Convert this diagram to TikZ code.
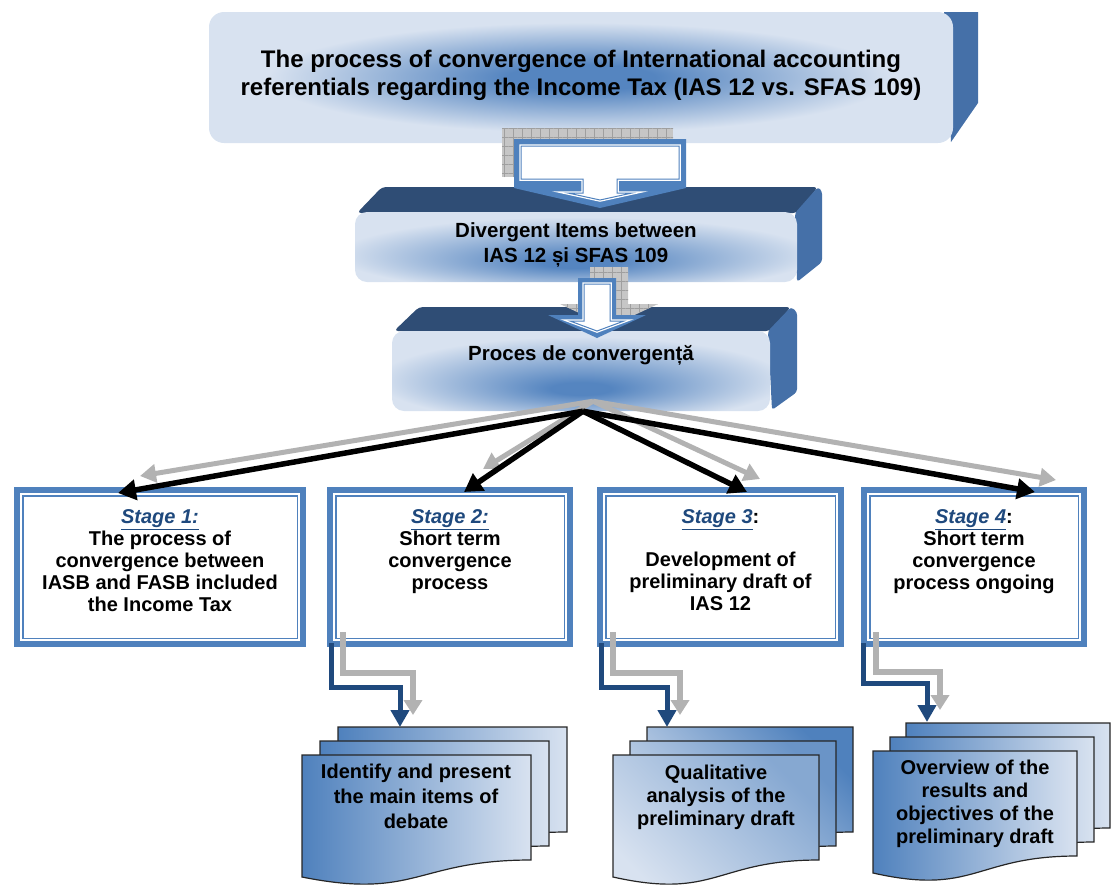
\documentclass[tikz,border=0pt]{standalone}
\usepackage{fontspec}
\setmainfont{Liberation Sans}
\usepackage{tikz}
\usetikzlibrary{
	positioning,
	arrows.meta,
	patterns.meta
}

\definecolor{accblue}{HTML}{4F81BD}
\definecolor{accdark}{HTML}{1F497D}
\definecolor{topface}{HTML}{2F4D75}
\definecolor{sideface}{HTML}{4570A8}
\definecolor{pale}{HTML}{D8E2F0}
\definecolor{glowblue}{HTML}{5585C0}

\pgfdeclareradialshading{glow}{\pgfpoint{0bp}{0bp}}{color(0bp)=(glowblue); color(5bp)=(glowblue); color(21bp)=(pale); color(50bp)=(pale)}
\pgfdeclareradialshading{lowglow}{\pgfpoint{0bp}{-12bp}}{color(0bp)=(glowblue); color(4bp)=(glowblue); color(27bp)=(pale); color(50bp)=(pale)}

% one sheet of a document stack: x, top y, width, shading
\newcommand{\docpage}[4]{%
	\path[docpage,#4] (#1,#2) -- ({#1+#3},#2) -- ({#1+#3},{#2+105})
		.. controls ({#1+#3/2},{#2+105}) and ({#1+#3/2},{#2+145}) .. (#1,{#2+122}) -- cycle;}

\begin{document}
\begin{tikzpicture}[x=1pt,y=-1pt,
		face/.style={shade,shading=#1,rounded corners=12,draw=none,inner sep=0},
		headtext/.style={font=\bfseries\fontsize{24}{28}\selectfont,align=center,inner sep=0},
		midtext/.style={font=\bfseries\fontsize{20.5}{24.5}\selectfont,align=center,inner sep=0},
		stagebox/.style={draw=accblue,line width=6,fill=white,inner sep=0,outer sep=3,minimum height=154},
		innerframe/.style={draw=accblue,line width=1.5},
		stagetext/.style={font=\bfseries\fontsize{20}{22}\selectfont,align=center,inner sep=0},
		doctext/.style={font=\bfseries\fontsize{20}{23}\selectfont,align=center,inner sep=0,anchor=north},
		docpage/.style={draw=black!85,line width=1.2},
		shadowgrid/.style={preaction={fill=gray!45},pattern={Hatch[distance=9pt,angle=0,line width=0.6pt]},pattern color=gray!75},
		fan/.style={draw=black,line width=5.5,-{Triangle[length=18,width=20]}},
		fanshadow/.style={draw=gray!60,line width=5,-{Triangle[length=16,width=18]}},
		elbow/.style={draw=accdark,line width=5,-{Triangle[length=17,width=18]}},
		elbowshadow/.style={draw=gray!60,line width=6,-{Triangle[length=15,width=18]}}
	]
	\useasboundingbox (0,0) rectangle (1117,884);

	% top box
	\fill[sideface] (944,12) -- (978,12) -- (978,103) -- (951,142) -- cycle;
	\node[face=glow,rounded corners=15,minimum width=744,minimum height=131] (top) at (581,77.5) {};
	\node[headtext] (toptext) at ([yshift=2pt]top.center)
		{The process of convergence of International accounting\\referentials regarding the Income Tax (IAS 12 vs. SFAS 109)};

	% divergent items
	\fill[topface,rounded corners=4] (357,213) -- (382,187) -- (818,187) -- (797,213) -- cycle;
	\fill[sideface,rounded corners=3] (795,213) -- (818,187) -- (822,191) -- (822,262) -- (797,282) -- cycle;
	\node[face=lowglow,minimum width=442,minimum height=70] (div) at (576,247) {};
	\node[midtext] (divtext) at ([yshift=2pt]div.center) {Divergent Items between\\IAS 12 și SFAS 109};

	% convergence process
	\fill[topface,rounded corners=4] (394,331) -- (419,307) -- (791,307) -- (770,331) -- cycle;
	\fill[sideface,rounded corners=3] (768,331) -- (791,307) -- (797,312) -- (797,392) -- (772,410) -- cycle;
	\node[face=lowglow,minimum width=378,minimum height=80] (proc) at (581,371) {};
	\node[midtext] (proctext) at ([yshift=16pt]proc.center) {Proces de convergență};

	% block arrows
	\path[shadowgrid] (502,128) rectangle (673,177);
	\fill[accblue] (514,139) -- (686,139) -- (686,188) -- (600,208) -- (514,188) -- cycle;
	\filldraw[fill=white,draw=white,line width=3.5] (521,146) -- (679,146) -- (679,179) -- (617,179) -- (617,193)
		-- (632,193) -- (600,200) -- (568,193) -- (583,193) -- (583,179) -- (521,179) -- cycle;
	\draw[accblue,line width=1] (521,146) -- (679,146) -- (679,179) -- (617,179) -- (617,193)
		-- (632,193) -- (600,200) -- (568,193) -- (583,193) -- (583,179) -- (521,179) -- cycle;

	\path[shadowgrid] (590,267) -- (628,267) -- (628,304) -- (658,304) -- (609,327) -- (560,304) -- (590,304) -- cycle;
	\fill[accblue] (578,278) -- (616,278) -- (616,315) -- (646,315) -- (597,338) -- (548,315) -- (578,315) -- cycle;
	\filldraw[fill=white,draw=white,line width=3.5] (584,284) -- (610,284) -- (610,321) -- (624,321) -- (597,331)
		-- (570,321) -- (584,321) -- cycle;
	\draw[accblue,line width=1] (584,284) -- (610,284) -- (610,321) -- (624,321) -- (597,331)
		-- (570,321) -- (584,321) -- cycle;

	% stages
	\node[stagebox,minimum width=286] (s1) at (160,567) {};
	\node[stagebox,minimum width=240] (s2) at (450,567) {};
	\node[stagebox,minimum width=241] (s3) at (720.5,567) {};
	\node[stagebox,minimum width=220] (s4) at (974,567) {};
	\draw[innerframe] ([shift={(8.75,8.75)}]s1.north west) rectangle ([shift={(-8.75,-8.75)}]s1.south east);
	\draw[innerframe] ([shift={(8.75,8.75)}]s2.north west) rectangle ([shift={(-8.75,-8.75)}]s2.south east);
	\draw[innerframe] ([shift={(8.75,8.75)}]s3.north west) rectangle ([shift={(-8.75,-8.75)}]s3.south east);
	\draw[innerframe] ([shift={(8.75,8.75)}]s4.north west) rectangle ([shift={(-8.75,-8.75)}]s4.south east);

	\node[stagetext,below=22pt of s1.north] (s1t)
		{{\color{accdark}\itshape\underline{Stage 1:}}\\The process of\\convergence between\\IASB and FASB included\\the Income Tax};
	\node[stagetext,below=22pt of s2.north] (s2t)
		{{\color{accdark}\itshape\underline{Stage 2:}}\\Short term\\convergence\\process};
	\node[stagetext,below=22pt of s3.north] (s3t)
		{{\color{accdark}\itshape\underline{Stage 3}}:\\[21pt]Development of\\preliminary draft of\\IAS 12};
	\node[stagetext,below=22pt of s4.north] (s4t)
		{{\color{accdark}\itshape\underline{Stage 4}}:\\Short term\\convergence\\process ongoing};

	% fan of arrows
	\draw[fanshadow] ([xshift=12pt,yshift=10pt]proc.south) -- ([xshift=-20pt,yshift=11pt]s1.north);
	\draw[fanshadow] ([xshift=12pt,yshift=10pt]proc.south) -- ([xshift=33pt,yshift=18pt]s2.north);
	\draw[fanshadow] ([xshift=12pt,yshift=10pt]proc.south) -- ([xshift=39.5pt,yshift=8pt]s3.north);
	\draw[fanshadow] ([xshift=12pt,yshift=10pt]proc.south) -- ([xshift=82pt,yshift=7pt]s4.north);
	\draw[fan] ([xshift=2pt]proc.south) -- ([xshift=-42pt,yshift=-6pt]s1.north);
	\draw[fan] ([xshift=2pt]proc.south) -- ([xshift=14pt,yshift=-5pt]s2.north);
	\draw[fan] ([xshift=2pt]proc.south) -- ([xshift=26.5pt,yshift=-5pt]s3.north);
	\draw[fan] ([xshift=2pt]proc.south) -- ([xshift=61pt,yshift=-5pt]s4.north);

	% document stacks
	\docpage{338}{727}{229}{left color=accblue,right color=pale}
	\docpage{320}{741}{229}{left color=accblue,right color=pale}
	\docpage{302}{755}{229}{left color=accblue,right color=pale}
	\docpage{647}{727}{206}{top color=accblue,bottom color=pale,shading angle=-45}
	\docpage{630}{741}{206}{top color=accblue!80!pale,bottom color=pale,shading angle=-45}
	\docpage{613}{755}{206}{top color=accblue!60!pale,bottom color=pale,shading angle=-45}
	\docpage{906}{723}{204}{left color=accblue,right color=pale}
	\docpage{890}{737}{204}{left color=accblue,right color=pale}
	\docpage{873}{751}{204}{left color=accblue,right color=pale}

	\node[doctext,font=\bfseries\fontsize{20}{25}\selectfont] (d2) at (416,764) {Identify and present\\the main items of\\debate};
	\node[doctext] (d3) at (716,765) {Qualitative\\analysis of the\\preliminary draft};
	\node[doctext] (d4) at (975,760) {Overview of the\\results and\\objectives of the\\preliminary draft};

	\coordinate (g2) at (413,715);
	\coordinate (k2) at (400,727);
	\coordinate (g3) at (680,715);
	\coordinate (k3) at (667,727);
	\coordinate (g4) at (940,710);
	\coordinate (k4) at (927,722);

	% elbow arrows
	\draw[elbowshadow] ([shift={(16,-15)}]s2.south west) -- ++(0,41) -| (g2);
	\draw[elbowshadow] ([shift={(16,-15)}]s3.south west) -- ++(0,41) -| (g3);
	\draw[elbowshadow] ([shift={(15,-15)}]s4.south west) -- ++(0,40) -| (g4);
	\draw[elbow] ([shift={(4,-4)}]s2.south west) -- ++(0,44) -| (k2);
	\draw[elbow] ([shift={(4,-4)}]s3.south west) -- ++(0,44) -| (k3);
	\draw[elbow] ([shift={(2,-4)}]s4.south west) -- ++(0,40) -| (k4);
\end{tikzpicture}
\end{document}
